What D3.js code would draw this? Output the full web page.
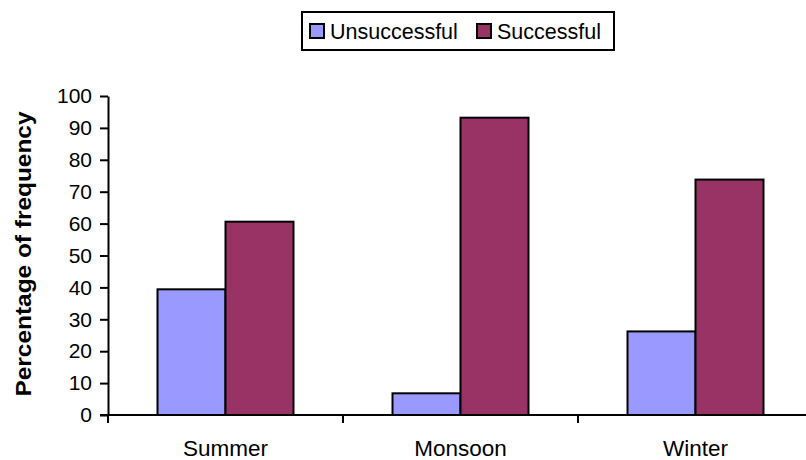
<!DOCTYPE html>
<html>
<head>
<meta charset="utf-8">
<script src="https://cdn.jsdelivr.net/npm/d3@7"></script>
<style>
  html, body { margin: 0; padding: 0; background: #fff; }
  svg { display: block; font-family: "Liberation Sans", Arial, sans-serif; }
</style>
</head>
<body>
<svg id="chart" width="806" height="460"></svg>
<script>
// Seasonal share of unsuccessful vs successful attempts (%)
const seasons = ["Summer", "Monsoon", "Winter"];
const seriesNames = ["Unsuccessful", "Successful"];
const unsuccessful = [39.4, 6.8, 26.2];
const successful = [60.6, 93.2, 73.8];
const yTicks = [0, 10, 20, 30, 40, 50, 60, 70, 80, 90, 100];
const seriesColors = ["#9999FF", "#993366"];

const rows = seasons.map((s, i) => ({ season: s, values: [unsuccessful[i], successful[i]] }));

const svg = d3.select("#chart");

const plotLeft = 108, plotBottom = 415, plotTop = 96;
const bandW = 235;

const x = d3.scaleBand()
  .domain(seasons)
  .range([plotLeft, plotLeft + bandW * seasons.length])
  .paddingInner(0).paddingOuter(0);

const groupW = 136;
const xInner = d3.scaleBand()
  .domain(seriesNames)
  .range([(bandW - groupW) / 2, (bandW + groupW) / 2])
  .padding(0);

const y = d3.scaleLinear().domain([0, 100]).range([plotBottom, plotTop]);

// bars
const groups = svg.append("g").selectAll("g")
  .data(rows).join("g")
  .attr("transform", d => `translate(${x(d.season)},0)`);

groups.selectAll("rect")
  .data(d => d.values.map((v, k) => ({ key: seriesNames[k], v, k })))
  .join("rect")
  .attr("x", d => xInner(d.key))
  .attr("width", xInner.bandwidth())
  .attr("y", d => y(d.v))
  .attr("height", d => y(0) - y(d.v))
  .attr("fill", d => seriesColors[d.k])
  .attr("stroke", "#000")
  .attr("stroke-width", 2);

// y axis
const yAxis = svg.append("g")
  .attr("transform", `translate(${plotLeft},0)`)
  .call(d3.axisLeft(y).tickValues(yTicks).tickSize(8).tickSizeOuter(0).tickPadding(8));
yAxis.select(".domain").attr("stroke", "#000").attr("stroke-width", 2);
yAxis.selectAll(".tick line").attr("stroke", "#000").attr("stroke-width", 2);
yAxis.selectAll(".tick text")
  .attr("font-size", 21).attr("fill", "#000")
  .attr("font-family", "Liberation Sans, Arial, sans-serif");

// x axis: baseline with ticks between categories
const xEnd = plotLeft + bandW * seasons.length;
svg.append("line")
  .attr("x1", plotLeft - 8).attr("x2", xEnd)
  .attr("y1", plotBottom).attr("y2", plotBottom)
  .attr("stroke", "#000").attr("stroke-width", 2);

const boundaries = seasons.map(s => x(s)).concat([xEnd]);
svg.append("g").selectAll("line")
  .data(boundaries).join("line")
  .attr("x1", d => d).attr("x2", d => d)
  .attr("y1", plotBottom).attr("y2", plotBottom + 8)
  .attr("stroke", "#000").attr("stroke-width", 2);

svg.append("g").selectAll("text")
  .data(seasons).join("text")
  .attr("x", d => x(d) + x.bandwidth() / 2)
  .attr("y", 456)
  .attr("text-anchor", "middle")
  .attr("font-size", 22.5)
  .attr("fill", "#000")
  .text(d => d);

// y axis title
svg.append("text")
  .attr("transform", "translate(31,254) rotate(-90)")
  .attr("text-anchor", "middle")
  .attr("font-size", 22)
  .attr("font-weight", "bold")
  .attr("fill", "#000")
  .attr("textLength", 285)
  .attr("lengthAdjust", "spacingAndGlyphs")
  .text("Percentage of frequency");

// legend
const legend = svg.append("g");
legend.append("rect")
  .attr("x", 302).attr("y", 12).attr("width", 312).attr("height", 38)
  .attr("fill", "#fff").attr("stroke", "#000").attr("stroke-width", 2);

const legendX = [310, 477];
seriesNames.forEach((name, i) => {
  legend.append("rect")
    .attr("x", legendX[i]).attr("y", 24).attr("width", 14).attr("height", 14)
    .attr("fill", seriesColors[i]).attr("stroke", "#000").attr("stroke-width", 2);
  legend.append("text")
    .attr("x", legendX[i] + 20).attr("y", 38.5)
    .attr("font-size", 21.5)
    .attr("fill", "#000")
    .text(name);
});
</script>
</body>
</html>
